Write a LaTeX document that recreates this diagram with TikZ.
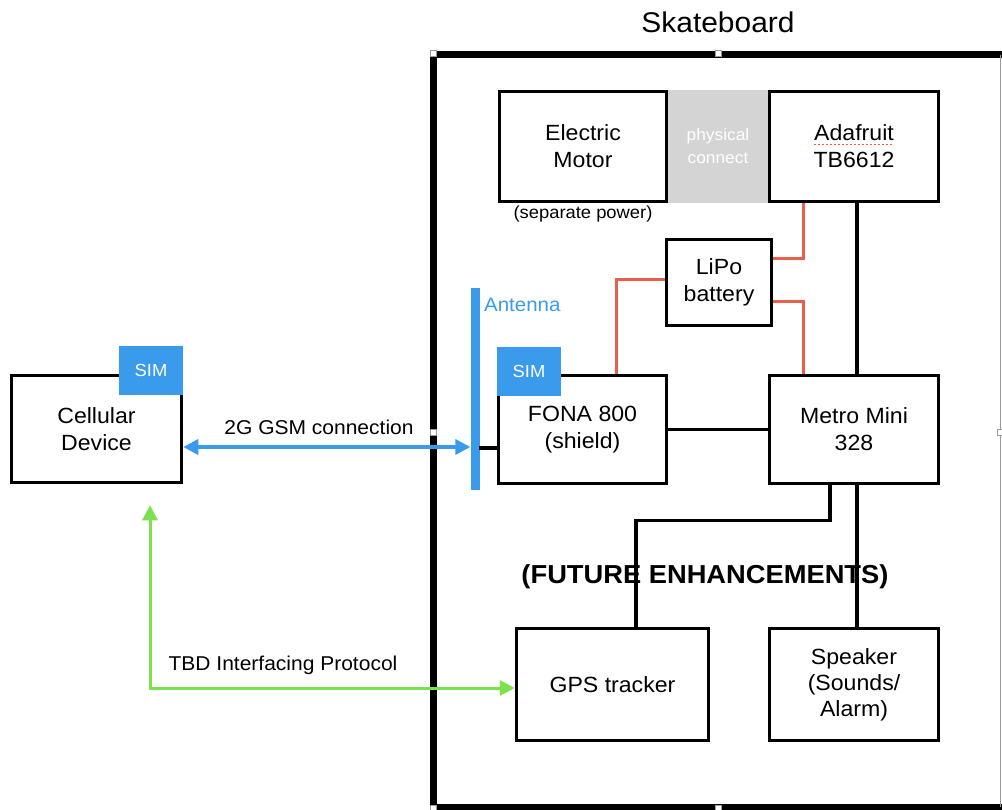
\documentclass[tikz,border=0pt]{standalone}
\usepackage{fontspec}
\setmainfont[FakeStretch=1.05]{Liberation Sans}
\usetikzlibrary{arrows.meta}
\definecolor{simblue}{HTML}{3A9AEB}
\definecolor{wirered}{HTML}{E8604C}
\definecolor{protgreen}{HTML}{7DE04D}
\definecolor{physgray}{HTML}{D4D4D4}
\definecolor{handlegray}{HTML}{9A9A9A}
\tikzset{
  blk/.style={draw, line width=3.5pt, inner sep=0pt, align=center,
    font=\fontsize{22}{27}\selectfont},
  simbox/.style={fill=simblue, inner sep=0pt, minimum width=64pt, minimum height=49pt,
    text=white, font=\fontsize{17.5}{20}\selectfont},
  wire/.style={line width=3.5pt},
  pwr/.style={line width=3pt, wirered},
  lbl/.style={inner sep=0pt, font=\fontsize{20}{24}\selectfont},
  handle/.style={draw=handlegray, fill=white, line width=0.6pt, minimum size=6pt, inner sep=0pt},
  arr/.style={line width=3.5pt, {Triangle[length=15pt,width=15pt]}-{Triangle[length=15pt,width=15pt]}}
}
\begin{document}
\begin{tikzpicture}[x=1pt,y=-1pt]
\useasboundingbox[fill=white] (0,0) rectangle (1002,810);
% skateboard frame
\node[inner sep=0pt, font=\fontsize{28.5}{32}\selectfont] (title) at (718,22) {Skateboard};
\draw[line width=7pt, line join=miter] (1002,55) -- (433,55) -- (433,807) -- (1002,807);
\draw[handlegray, line width=0.6pt] (1000.5,55) -- (1000.5,807);
% gray physical connect
\node[fill=physgray, inner sep=0pt, minimum width=100pt, minimum height=113pt, text=white,
  align=center, font=\fontsize{16.5}{23}\selectfont] (phys) at (718,146.5) {physical\\connect};
% future label (under the wires)
\node[inner sep=0pt, font=\bfseries\fontsize{26}{30}\selectfont] (future) at (705,577) {(FUTURE ENHANCEMENTS)};
% boxes
\node[blk, minimum width=167pt, minimum height=110pt] (motor) at (583,146.5) {Electric\\Motor};
\node[blk, minimum width=169pt, minimum height=110pt] (ada) at (854,146.5) {Adafruit\\TB6612};
\draw[wirered, line width=1.6pt, dash pattern=on 2pt off 2pt] ([xshift=-40pt,yshift=2pt]ada.center) -- ([xshift=40pt,yshift=2pt]ada.center);
\node[inner sep=0pt, font=\fontsize{17.5}{20}\selectfont] (sep) at (583,214) {(separate power)};
\node[blk, minimum width=105pt, minimum height=86pt] (lipo) at (719,282.5) {LiPo\\battery};
\node[blk, minimum width=168pt, minimum height=108pt] (fona) at (582.5,429.5) {FONA 800\\(shield)};
\node[simbox] (fonasim) at (529,371.5) {SIM};
\node[blk, minimum width=169pt, minimum height=108pt] (metro) at (854,429.5) {Metro Mini\\328};
\node[blk, minimum width=192pt, minimum height=112pt] (gps) at (612.5,684.5) {GPS tracker};
\node[blk, minimum width=169pt, minimum height=112pt, font=\fontsize{22}{26}\selectfont] (spk) at (854,684.5) {Speaker\\(Sounds/\\Alarm)};
\node[blk, minimum width=170pt, minimum height=107pt] (cell) at (96.5,429) {Cellular\\Device};
\node[simbox] (cellsim) at (151,370.5) {SIM};
% antenna
\node[fill=simblue, inner sep=0pt, minimum width=9pt, minimum height=202pt] (ant) at (475,389) {};
\node[anchor=west, inner sep=0pt, text=simblue, font=\fontsize{19.5}{23}\selectfont] (antlbl) at (484,305) {Antenna};
% black wires
\draw[wire] (fona.east) -- (metro.west);
\draw[wire] ([yshift=-18.5pt]fona.west) -- ++(-18,0);
\draw[wire] ([xshift=3pt]ada.south) -- ([xshift=3pt]metro.north);
\draw[wire] ([xshift=-24pt]metro.south) -- ++(0,35) -| ([xshift=23.5pt]gps.north);
\draw[wire] ([xshift=3pt]metro.south) -- ([xshift=3pt]spk.north);
% power wires
\draw[pwr] ([xshift=-51pt]ada.south) |- ([yshift=23.5pt]lipo.east);
\draw[pwr] ([yshift=-19.5pt]lipo.east) -| ([xshift=-51pt]metro.north);
\draw[pwr] ([yshift=2.5pt]lipo.west) -| ([xshift=33.5pt]fona.north);
% GSM connection
\coordinate (gsm) at ([yshift=-18pt]cell.east);
\draw[arr, simblue] (gsm) -- (gsm -| ant.west);
\node[lbl] (gsmlbl) at (319,427) {2G GSM connection};
% TBD protocol
\coordinate (tbd) at ([yshift=-3.5pt]gps.west);
\draw[arr, protgreen, line width=3pt] ([xshift=53.5pt,yshift=-21pt]cell.south) |- (tbd);
\node[lbl] (tbdlbl) at (283,665) {TBD Interfacing Protocol};
% selection handles
\node[handle] (h1) at (433,53) {};
\node[handle] (h2) at (718,53) {};
\node[handle] (h3) at (433,432) {};
\node[handle] (h4) at (1000,432) {};
\node[handle] (h5) at (433,808) {};
\node[handle] (h6) at (718,808) {};
\end{tikzpicture}
\end{document}
